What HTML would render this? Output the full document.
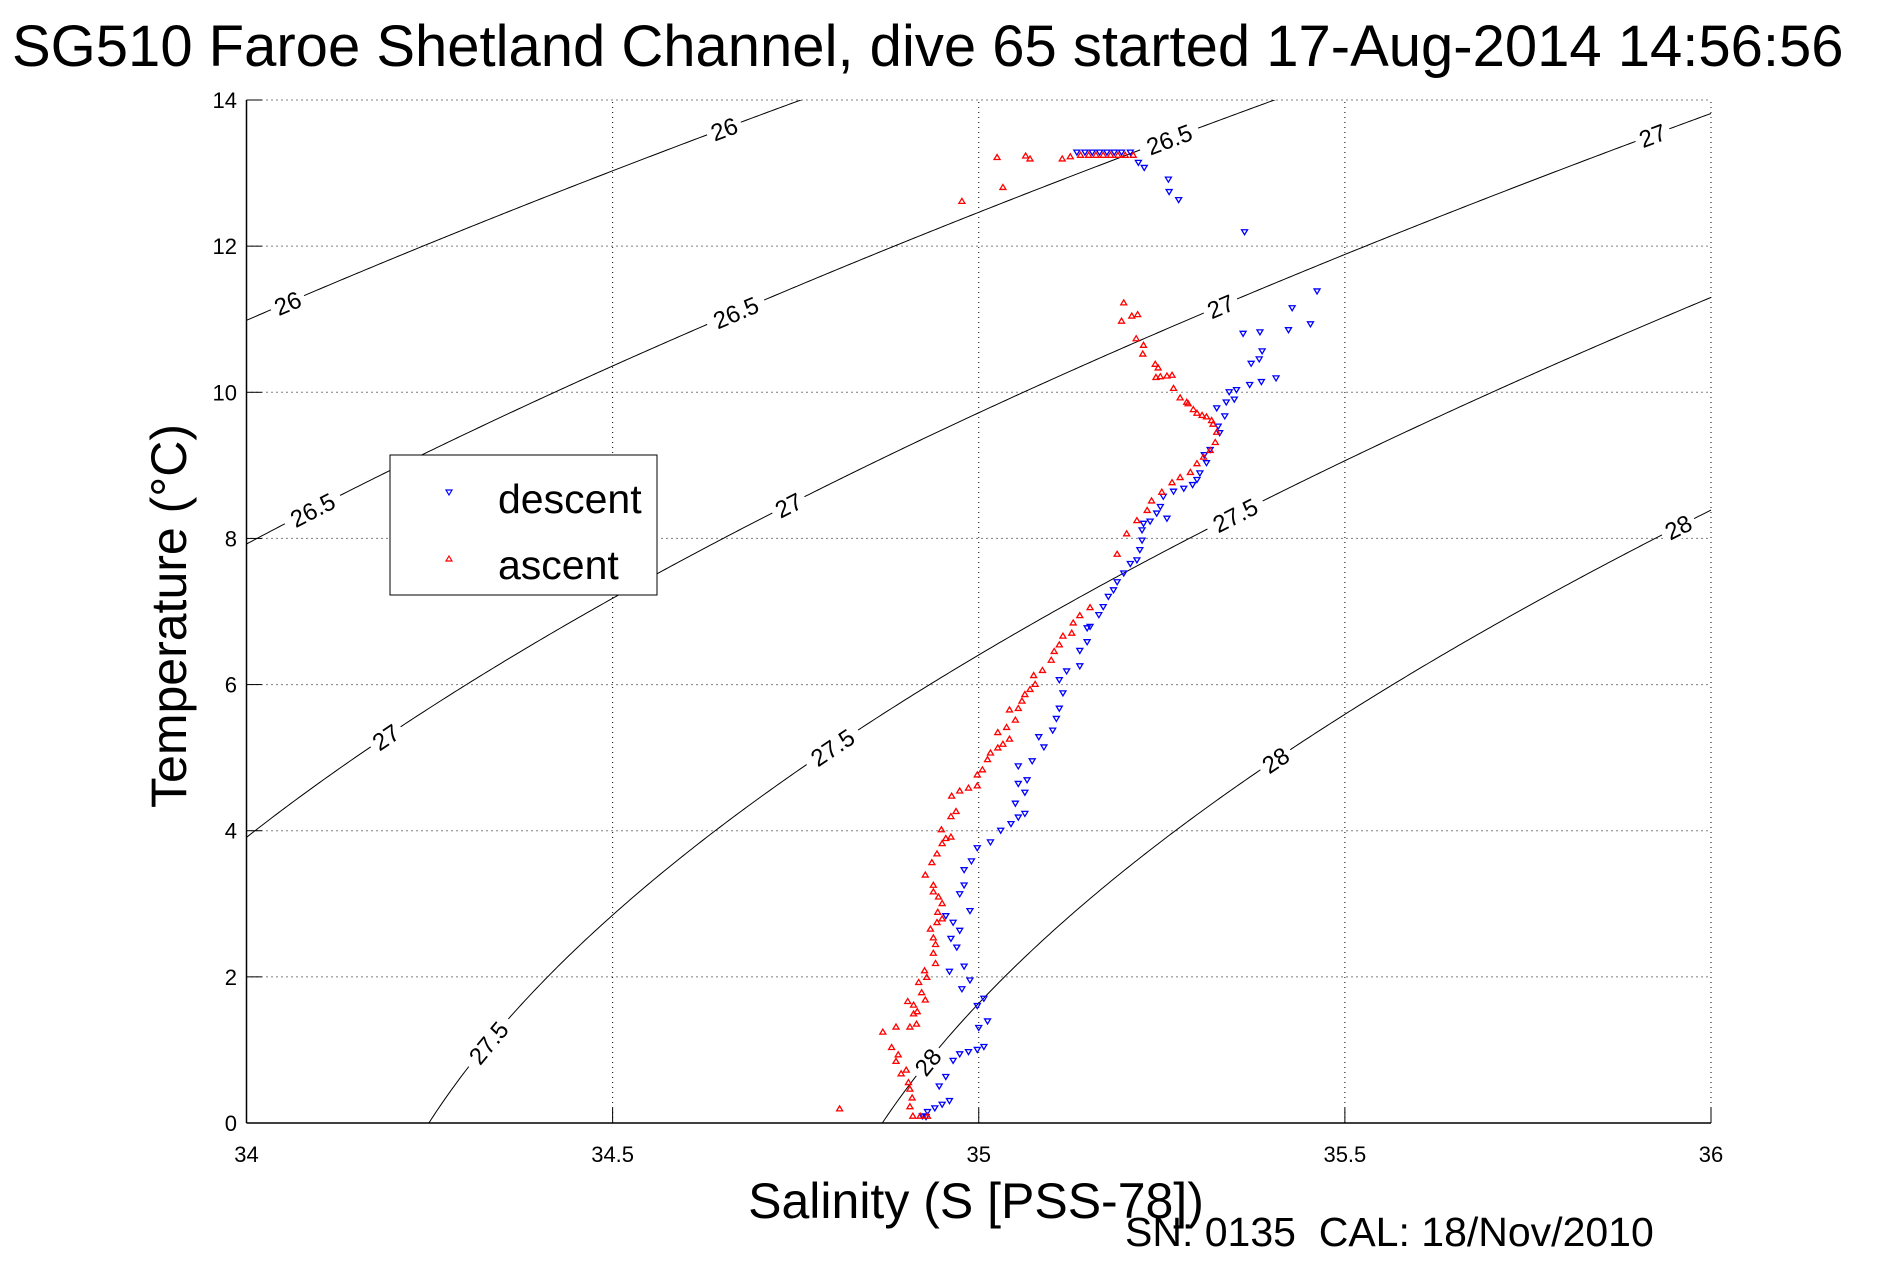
<!DOCTYPE html>
<html><head><meta charset="utf-8"><style>
body{margin:0;background:#fff;}
svg{display:block;font-family:"Liberation Sans",sans-serif;}
</style></head><body>
<svg id="chart" width="1891" height="1262" viewBox="0 0 1891 1262" xmlns="http://www.w3.org/2000/svg">
<defs><clipPath id="plotclip"><rect x="246.5" y="100" width="1465" height="1023"/></clipPath></defs>
<rect width="1891" height="1262" fill="#fff"/>
<text x="12" y="66" font-size="58">SG510 Faroe Shetland Channel, dive 65 started 17-Aug-2014 14:56:56</text>
<g id="grid"></g>
<g id="contours" clip-path="url(#plotclip)"></g>
<g id="clabels"></g>
<g id="desc"></g>
<g id="asc"></g>
<g id="axes"></g>
<text x="976" y="1218" font-size="50" text-anchor="middle">Salinity (S [PSS-78])</text>
<text transform="translate(186,616) rotate(-90)" font-size="50" text-anchor="middle">Temperature (°C)</text>
<text x="1125" y="1246" font-size="41" style="white-space:pre">SN: 0135  CAL: 18/Nov/2010</text>
<g>
<rect x="390" y="455" width="267" height="140" fill="#fff" stroke="#000" stroke-width="1"/>
<path d="M446,490 L452,490 L449,495 Z" fill="none" stroke="#00f" stroke-width="1.2"/>
<text x="498" y="513" font-size="41">descent</text>
<path d="M446,561 L452,561 L449,556 Z" fill="none" stroke="#f00" stroke-width="1.2"/>
<text x="498" y="579" font-size="41">ascent</text>
</g>
</svg>
<script>
const xTicks=[34,34.5,35,35.5,36];
const xTickLabels=["34","34.5","35","35.5","36"];
const yTicks=[0,2,4,6,8,10,12,14];
const yTickLabels=["0","2","4","6","8","10","12","14"];
const levels=[26,26.5,27,27.5,28];
const labelLevels=[26,26,26.5,26.5,26.5,27,27,27,27,27.5,27.5,27.5,28,28,28];
const labelSal=[34.652,34.056,35.26,34.668,34.09,35.92,35.33,34.74,34.19,35.35,34.80,34.33,35.955,35.405,34.93];
const descS=[35.134,35.145,35.155,35.165,35.175,35.185,35.195,35.207,35.218,35.226,35.259,35.26,35.273,35.363,35.462,35.428,35.453,35.423,35.384,35.361,35.387,35.383,35.372,35.406,35.386,35.37,35.352,35.342,35.349,35.338,35.325,35.336,35.327,35.329,35.316,35.308,35.311,35.302,35.298,35.292,35.28,35.266,35.252,35.248,35.243,35.257,35.234,35.225,35.223,35.223,35.22,35.216,35.207,35.198,35.189,35.184,35.177,35.17,35.164,35.152,35.148,35.148,35.138,35.138,35.12,35.11,35.115,35.11,35.106,35.101,35.082,35.089,35.073,35.054,35.066,35.054,35.063,35.05,35.063,35.054,35.044,35.03,35.016,34.998,34.99,34.98,34.98,34.974,34.988,34.955,34.965,34.974,34.962,34.97,34.98,34.96,34.977,34.988,35.007,34.998,35.012,35.0,35.007,34.998,34.986,34.974,34.965,34.955,34.946,34.96,34.95,34.94,34.93,34.923,34.928];
const descT=[13.28,13.28,13.28,13.28,13.28,13.28,13.28,13.28,13.14,13.07,12.91,12.74,12.63,12.19,11.38,11.15,10.93,10.85,10.82,10.8,10.56,10.45,10.39,10.19,10.14,10.1,10.03,10.0,9.9,9.86,9.78,9.67,9.53,9.44,9.21,9.14,9.03,8.89,8.8,8.73,8.68,8.64,8.57,8.43,8.34,8.27,8.23,8.2,8.11,7.97,7.84,7.7,7.65,7.52,7.4,7.29,7.2,7.06,6.95,6.79,6.77,6.58,6.46,6.25,6.18,6.06,5.88,5.67,5.53,5.37,5.28,5.14,4.95,4.88,4.69,4.64,4.52,4.37,4.23,4.18,4.09,4.0,3.84,3.76,3.58,3.46,3.25,3.13,2.9,2.83,2.74,2.63,2.52,2.4,2.14,2.07,1.83,1.95,1.7,1.6,1.39,1.3,1.04,1.0,0.97,0.94,0.85,0.63,0.5,0.3,0.25,0.2,0.15,0.09,0.08];
const ascS=[34.977,35.025,35.033,35.064,35.07,35.114,35.125,35.139,35.15,35.16,35.17,35.18,35.19,35.2,35.211,35.198,35.217,35.209,35.195,35.215,35.225,35.224,35.241,35.245,35.242,35.248,35.257,35.264,35.266,35.275,35.284,35.286,35.293,35.298,35.305,35.311,35.318,35.32,35.325,35.323,35.316,35.307,35.298,35.289,35.275,35.264,35.25,35.236,35.23,35.216,35.202,35.189,35.152,35.138,35.129,35.127,35.115,35.11,35.103,35.099,35.087,35.075,35.077,35.07,35.063,35.059,35.054,35.042,35.05,35.038,35.026,35.042,35.033,35.026,35.016,35.012,35.005,34.998,34.998,34.986,34.974,34.963,34.969,34.962,34.949,34.955,34.962,34.95,34.943,34.936,34.927,34.938,34.938,34.945,34.95,34.944,34.95,34.943,34.934,34.938,34.941,34.938,34.941,34.926,34.929,34.918,34.922,34.927,34.911,34.903,34.916,34.911,34.915,34.906,34.887,34.869,34.881,34.89,34.887,34.901,34.894,34.904,34.906,34.909,34.906,34.91,34.92,34.93,34.81];
const ascT=[12.62,13.22,12.81,13.24,13.2,13.2,13.23,13.25,13.25,13.25,13.25,13.25,13.25,13.25,13.25,11.23,11.07,11.05,10.98,10.74,10.65,10.53,10.39,10.34,10.21,10.22,10.23,10.24,10.06,9.93,9.87,9.85,9.77,9.72,9.69,9.67,9.62,9.57,9.46,9.32,9.21,9.12,9.03,8.91,8.84,8.77,8.64,8.52,8.39,8.25,8.07,7.79,7.06,6.95,6.85,6.71,6.67,6.55,6.46,6.34,6.2,6.13,6.01,5.94,5.87,5.78,5.68,5.66,5.52,5.42,5.35,5.26,5.19,5.14,5.07,4.98,4.84,4.77,4.62,4.59,4.55,4.48,4.27,4.2,4.02,3.9,3.92,3.83,3.69,3.57,3.4,3.26,3.17,3.1,3.01,2.89,2.8,2.75,2.66,2.54,2.45,2.33,2.19,2.09,2.0,1.93,1.79,1.69,1.62,1.67,1.53,1.5,1.36,1.32,1.32,1.25,1.04,0.94,0.85,0.73,0.68,0.56,0.47,0.35,0.23,0.1,0.1,0.1,0.2];

const NS='http://www.w3.org/2000/svg';
const X0=246.5,X1=1711,Y0=1123,Y1=100;
function xs(s){return X0+(s-34)/2*(X1-X0);}
function ys(t){return Y0-t/14*(Y0-Y1);}
function mk(tag,attrs,parent){const e=document.createElementNS(NS,tag);for(const k in attrs)e.setAttribute(k,attrs[k]);parent.appendChild(e);return e;}
function sigma(S,T){
 const rw=999.842594+6.793952e-2*T-9.095290e-3*T*T+1.001685e-4*T**3-1.120083e-6*T**4+6.536332e-9*T**5;
 const A=8.24493e-1-4.0899e-3*T+7.6438e-5*T*T-8.2467e-7*T**3+5.3875e-9*T**4;
 const B=-5.72466e-3+1.0227e-4*T-1.6546e-6*T*T;
 return rw+A*S+B*Math.pow(S,1.5)+4.8314e-4*S*S-1000;
}
function tFor(S,lev){let lo=-2,hi=40;for(let i=0;i<60;i++){const m=(lo+hi)/2;if(sigma(S,m)>lev)lo=m;else hi=m;}return (lo+hi)/2;}

const grid=document.getElementById('grid');
xTicks.forEach((v,i)=>{
 const g=mk('line',{x1:xs(v),x2:xs(v),y1:Y0,y2:Y1,stroke:'#000','stroke-width':1,'stroke-dasharray':'1,4'},grid);
 
 
});
yTicks.forEach((v,i)=>{
 const g=mk('line',{x1:X0,x2:X1,y1:ys(v),y2:ys(v),stroke:'#000','stroke-width':1,'stroke-dasharray':'1,4'},grid);
 
 
});
const cg=document.getElementById('contours');
levels.forEach(lev=>{
 let d='';
 for(let s=34;s<=36.0001;s+=0.004){const t=tFor(s,lev);if(t<-1||t>15)continue;d+=(d?'L':'M')+xs(s).toFixed(2)+','+ys(t).toFixed(2);}
 const p=mk('path',{d:d,fill:'none',stroke:'#000','stroke-width':1},cg);
 
 
});
const lg=document.getElementById('clabels');
labelLevels.forEach((lev,i)=>{
 const s=labelSal[i],t=tFor(s,lev);
 const ang=Math.atan2(ys(tFor(s+0.01,lev))-ys(tFor(s-0.01,lev)),xs(s+0.01)-xs(s-0.01))*180/Math.PI;
 const g=mk('g',{transform:`translate(${xs(s)},${ys(t)}) rotate(${ang})`},lg);
 
 
 const txt=String(lev);
 const w=txt.length*13+10;
 mk('rect',{x:-w/2,y:-12,width:w,height:24,fill:'#fff'},g);
 const te=mk('text',{x:0,y:9,'font-size':24,'text-anchor':'middle'},g);
 te.textContent=txt;
});
function drawSeries(id,S,T,color,down){
 const g=document.getElementById(id);
 S.forEach((s,i)=>{
  const x=xs(s),y=ys(T[i]);
  const d=down?`M${x-3},${y-2.5}L${x+3},${y-2.5}L${x},${y+2.5}Z`:`M${x-3},${y+2.5}L${x+3},${y+2.5}L${x},${y-2.5}Z`;
  const p=mk('path',{d:d,fill:'none',stroke:color,'stroke-width':1.3},g);
  
  
 });
}
drawSeries('desc',descS,descT,'#00f',true);
drawSeries('asc',ascS,ascT,'#f00',false);
const ax=document.getElementById('axes');
mk('line',{x1:X0,x2:X1,y1:Y0,y2:Y0,stroke:'#000','stroke-width':1.5},ax);
mk('line',{x1:X0,x2:X0,y1:Y0,y2:Y1,stroke:'#000','stroke-width':1.5},ax);
xTicks.forEach((v,i)=>{
 mk('line',{x1:xs(v),x2:xs(v),y1:Y0,y2:Y0-15,stroke:'#000','stroke-width':1},ax);
 const t=mk('text',{x:xs(v),y:1162,'font-size':22,'text-anchor':'middle'},ax);
 
 
 t.textContent=xTickLabels[i];
});
yTicks.forEach((v,i)=>{
 mk('line',{x1:X0,x2:X0+15,y1:ys(v),y2:ys(v),stroke:'#000','stroke-width':1},ax);
 const t=mk('text',{x:237,y:ys(v)+8,'font-size':22,'text-anchor':'end'},ax);
 
 
 t.textContent=yTickLabels[i];
});
</script>
</body></html>
